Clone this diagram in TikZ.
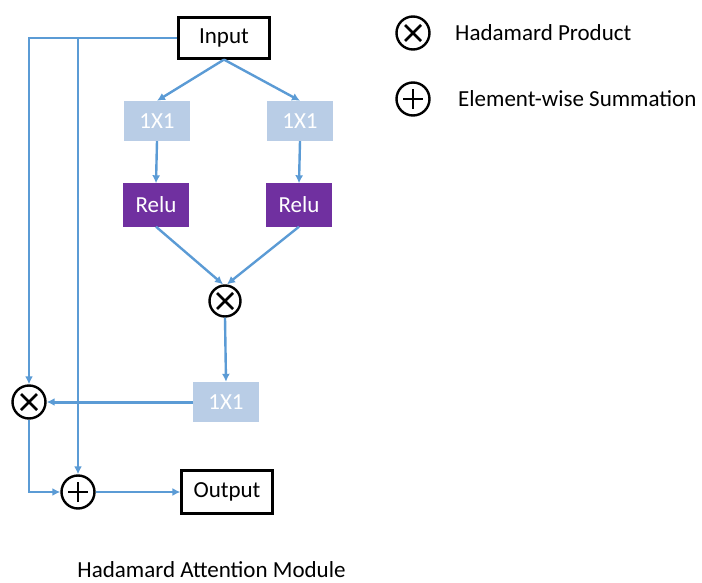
\documentclass[tikz,border=0pt]{standalone}
\usepackage{fontspec}
\setmainfont{Carlito}
\usetikzlibrary{arrows.meta}
\definecolor{flow}{HTML}{5B9BD5}
\definecolor{convfill}{HTML}{B9CDE6}
\definecolor{relufill}{HTML}{7030A0}
\tikzset{
  txt/.style={font=\fontsize{23}{27}\selectfont},
  iobox/.style={txt, draw=black, line width=2.2pt, minimum width=91pt, minimum height=41pt, inner sep=0pt},
  convbox/.style={txt, fill=convfill, text=white, minimum width=66pt, minimum height=40pt, inner sep=0pt},
  relubox/.style={txt, fill=relufill, text=white, minimum width=66pt, minimum height=43pt, inner sep=0pt},
  opcirc/.style={circle, draw=black, line width=2.4pt, minimum size=33pt, inner sep=0pt},
  mulop/.style={opcirc, path picture={
      \draw[line width=2.8pt] (path picture bounding box.center) ++(-8pt,-8pt) -- ++(16pt,16pt);
      \draw[line width=2.8pt] (path picture bounding box.center) ++(-8pt,8pt) -- ++(16pt,-16pt);}},
  addop/.style={opcirc, path picture={
      \draw[line width=2.8pt] (path picture bounding box.center) ++(-10pt,0pt) -- ++(20pt,0pt);
      \draw[line width=2.8pt] (path picture bounding box.center) ++(0pt,-10pt) -- ++(0pt,20pt);}},
  link/.style={draw=flow, line width=2.4pt},
  arr/.style={link, -{Latex[length=8pt,width=8pt]}}
}
\begin{document}
\begin{tikzpicture}[x=1pt,y=-1pt]
\path[use as bounding box] (0,0) rectangle (702,583);

% main branch
\node[iobox] (inp) at (224,38) {Input};
\node[convbox] (c1L) at (157,121) {1X1};
\node[convbox] (c1R) at (300,121) {1X1};
\node[relubox] (reluL) at (156,205) {Relu};
\node[relubox] (reluR) at (299,205) {Relu};
\node[mulop, minimum size=31pt] (mulM) at (225,301) {};
\node[convbox] (c1B) at (226,402) {1X1};
\node[mulop] (mulL) at (29,402) {};
\node[addop] (add) at (78,492) {};
\node[iobox, minimum height=43pt] (out) at (227,492) {Output};
\coordinate (split) at (78,38);

% legend
\node[mulop] (lmul) at (413,33) {};
\node[addop] (lplus) at (413,99) {};
\node[txt, anchor=west, inner sep=0pt] (lmultxt) at (455,33) {Hadamard Product};
\node[txt, anchor=west, inner sep=0pt] (lplustxt) at (458,99) {Element-wise Summation};

% caption
\node[txt, anchor=base, inner sep=0pt] (title) at (211.5,577) {Hadamard Attention Module};

% connectors
\draw[arr] (inp.west) -| (mulL.north);
\draw[arr] (split) -- (add.north);
\draw[arr] (inp.south) -- (c1L.north);
\draw[arr] (inp.south) -- (c1R.north);
\draw[arr] (c1L.south) -- (reluL.north);
\draw[arr] (c1R.south) -- (reluR.north);
\draw[arr] (reluL.south) -- ([xshift=-2pt]mulM.north);
\draw[arr] (reluR.south) -- ([xshift=2pt]mulM.north);
\draw[arr] (mulM.south) -- (c1B.north);
\draw[arr, line width=3pt] (c1B.west) -- (mulL.east);
\draw[arr] (mulL.south) |- (add.west);
\draw[arr] (add.east) -- (out.west);
\end{tikzpicture}
\end{document}
